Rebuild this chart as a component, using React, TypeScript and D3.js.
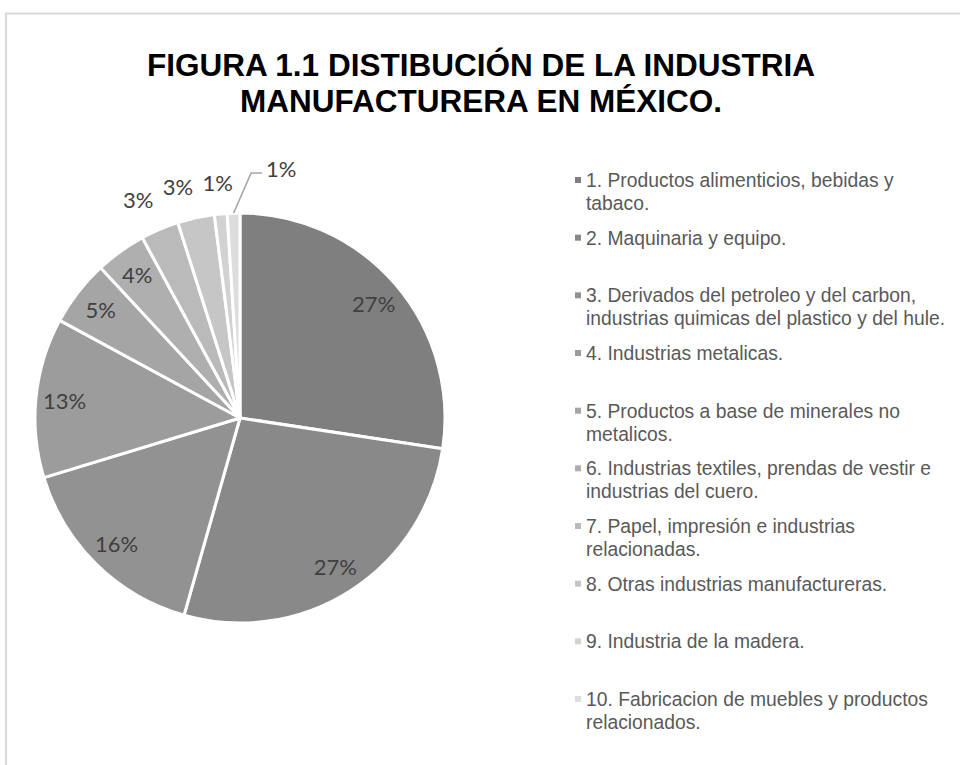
import React, { useRef, useEffect } from "react";
import * as d3 from "d3";

// chart data
const titleLines = ["FIGURA 1.1 DISTIBUCIÓN DE LA INDUSTRIA", "MANUFACTURERA EN MÉXICO."];
const categories = [
  "1. Productos alimenticios, bebidas y tabaco.",
  "2. Maquinaria y equipo.",
  "3. Derivados del petroleo y del carbon, industrias quimicas del plastico y del hule.",
  "4. Industrias metalicas.",
  "5. Productos a base de minerales no metalicos.",
  "6. Industrias textiles, prendas de vestir e industrias del cuero.",
  "7. Papel, impresión e industrias relacionadas.",
  "8. Otras industrias manufactureras.",
  "9. Industria de la madera.",
  "10. Fabricacion de muebles y productos relacionados.",
];
const shares = [27.4, 27.0, 15.9, 12.6, 5.2, 4.0, 3.0, 2.9, 1.0, 1.0];
const sliceColors = [
  "#7f7f7f", "#898989", "#929292", "#9c9c9c", "#a5a5a5",
  "#afafaf", "#bababa", "#c6c6c6", "#d2d2d2", "#dddddd",
];

const W = 960;
const H = 765;

function App() {
  const ref = useRef<SVGSVGElement | null>(null);

  useEffect(() => {
    const svg = d3.select(ref.current);
    svg.selectAll("*").remove();

    // chart border (runs off the right/bottom of the picture)
    svg.append("rect")
      .attr("x", 6).attr("y", 13.5)
      .attr("width", 1000).attr("height", 1000)
      .attr("fill", "#fff")
      .attr("stroke", "#d9d9d9")
      .attr("stroke-width", 2);

    // title
    svg.append("g")
      .selectAll("text")
      .data(titleLines)
      .join("text")
      .attr("x", 481)
      .attr("y", (d, i) => 76 + i * 36)
      .attr("text-anchor", "middle")
      .attr("font-family", "'Liberation Sans', Arial, sans-serif")
      .attr("font-weight", "bold")
      .attr("font-size", 31.5)
      .attr("fill", "#000")
      .text(d => d);

    // pie
    const cx = 240, cy = 418, r = 205;
    const pie = d3.pie<number>().sort(null).value(d => d);
    const arcs = pie(shares);
    const arc = d3.arc<d3.PieArcDatum<number>>().innerRadius(0).outerRadius(r);

    const g = svg.append("g").attr("transform", `translate(${cx},${cy})`);
    g.selectAll("path")
      .data(arcs)
      .join("path")
      .attr("d", arc)
      .attr("fill", (d, i) => sliceColors[i])
      .attr("stroke", "#fff")
      .attr("stroke-width", 3)
      .attr("stroke-linejoin", "round");

    // data labels
    const fmt = (v: number) => `${Math.round(v)}%`;
    const mid = (d: d3.PieArcDatum<number>) => (d.startAngle + d.endAngle) / 2;
    const leaderIdx = shares.length - 1;
    const labelFont = "Lato, 'Open Sans', sans-serif";
    const labelSize = 22;
    const labelW = (s: string) => s.length * labelSize * 0.45;

    type Lab = { text: string; x: number; y: number };
    const labs: Lab[] = [];
    const outside: Lab[] = [];
    arcs.forEach((d, i) => {
      const a = mid(d);
      const text = fmt(d.data);
      if (i === leaderIdx) return;
      if (d.data >= 3.5) {
        const rr = r * 0.86;
        labs.push({ text, x: Math.sin(a) * rr, y: -Math.cos(a) * rr });
      } else {
        const rr = 237;
        const lab = { text, x: Math.sin(a) * rr, y: -Math.cos(a) * rr };
        labs.push(lab);
        outside.push(lab);
      }
    });
    // push crowded outside labels left so they do not touch
    for (let k = outside.length - 2; k >= 0; k--) {
      const right = outside[k + 1];
      const maxX = right.x - labelW(right.text) / 2 - 20 - labelW(outside[k].text) / 2;
      if (outside[k].x > maxX) outside[k].x = maxX;
    }

    g.append("g")
      .selectAll("text")
      .data(labs)
      .join("text")
      .attr("x", d => d.x)
      .attr("y", d => d.y)
      .attr("text-anchor", "middle")
      .attr("dominant-baseline", "central")
      .attr("font-family", labelFont)
      .attr("font-size", labelSize)
      .attr("fill", "#404040")
      .text(d => d.text);

    // leader line label for the last thin slice
    const ld = arcs[leaderIdx];
    const la = mid(ld);
    const p0: [number, number] = [Math.sin(la) * r, -Math.cos(la) * r];
    const p1: [number, number] = [p0[0] + 17.5, p0[1] - 40];
    const p2: [number, number] = [p1[0] + 11, p1[1]];
    g.append("path")
      .attr("d", d3.line()([p0, p1, p2]))
      .attr("fill", "none")
      .attr("stroke", "#a6a6a6")
      .attr("stroke-width", 1.5);
    g.append("text")
      .attr("x", p2[0] + 4)
      .attr("y", p2[1] - 5)
      .attr("dominant-baseline", "central")
      .attr("font-family", labelFont)
      .attr("font-size", labelSize)
      .attr("fill", "#404040")
      .text(fmt(ld.data));

    // legend
    const legX = 586;
    const legSize = 19.3;
    const lineH = 23;
    const maxW = 364;
    const yScale = d3.scalePoint<string>().domain(categories).range([187, 706]);
    const leg = svg.append("g")
      .attr("font-family", "'Liberation Sans', Arial, sans-serif")
      .attr("font-size", legSize)
      .attr("fill", "#595959");

    categories.forEach((name, i) => {
      const y0 = yScale(name) as number;
      leg.append("rect")
        .attr("x", legX - 11)
        .attr("y", y0 - 10)
        .attr("width", 6)
        .attr("height", 6)
        .attr("fill", sliceColors[i]);

      const t = leg.append("text").attr("x", legX).attr("y", y0);
      // wrap words to the legend width
      const words = name.split(" ");
      let line: string[] = [];
      let lineNo = 0;
      let ts = t.append("tspan").attr("x", legX).attr("y", y0);
      words.forEach(w => {
        line.push(w);
        ts.text(line.join(" "));
        const node = ts.node() as SVGTSpanElement;
        if (node.getComputedTextLength() > maxW && line.length > 1) {
          line.pop();
          ts.text(line.join(" "));
          line = [w];
          lineNo++;
          ts = t.append("tspan").attr("x", legX).attr("y", y0 + lineNo * lineH).text(w);
        }
      });
    });
  }, []);

  return (
    <div style={{ position: "absolute", left: 0, top: 0, width: W, height: H, background: "#fff" }}>
      <svg ref={ref} width={W} height={H} />
    </div>
  );
}

export default App;
